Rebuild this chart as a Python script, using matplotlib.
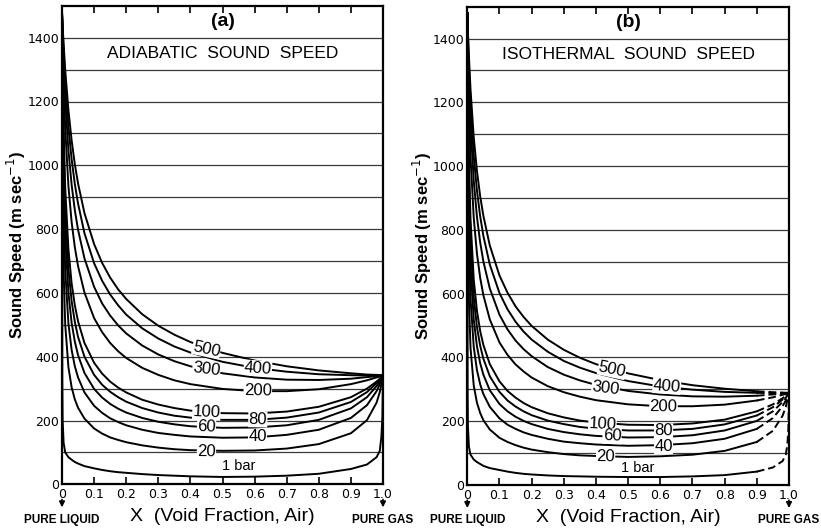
import matplotlib
matplotlib.use("Agg")
import matplotlib.pyplot as plt
import numpy as np

# ---------------- data ----------------
x_main = [0, 0.002, 0.005, 0.01, 0.02, 0.03, 0.04, 0.05, 0.07, 0.1, 0.125, 0.15, 0.175,
          0.2, 0.25, 0.3, 0.35, 0.4, 0.5, 0.6, 0.7, 0.8, 0.9, 0.95, 0.98, 0.99, 1.0]
x_one = [0, 0.001, 0.002, 0.005, 0.01, 0.02, 0.03, 0.04, 0.05, 0.07, 0.1, 0.125, 0.15,
         0.175, 0.2, 0.25, 0.3, 0.35, 0.4, 0.5, 0.6, 0.7, 0.8, 0.9, 0.95, 0.98, 0.99,
         0.995, 0.998, 1.0]

# (a) adiabatic sound speed, m/s
adi_500 = [1480, 1438, 1381, 1299, 1173, 1078, 1003, 943, 850, 753, 694, 648, 611, 581, 533, 497, 469, 446, 412, 388, 370, 357, 348, 344, 343, 342, 342]
adi_400 = [1480, 1427, 1358, 1263, 1121, 1019, 941, 880, 787, 693, 638, 595, 561, 532, 489, 457, 432, 413, 384, 365, 353, 345, 342, 341, 341, 341, 342]
adi_300 = [1480, 1410, 1323, 1208, 1047, 939, 859, 798, 708, 619, 567, 529, 498, 473, 435, 407, 386, 370, 348, 335, 328, 327, 331, 336, 339, 340, 342]
adi_200 = [1480, 1378, 1259, 1116, 935, 822, 743, 684, 601, 521, 477, 443, 417, 396, 365, 343, 326, 314, 299, 292, 292, 298, 314, 326, 335, 338, 342]
adi_100 = [1480, 1294, 1113, 930, 737, 630, 561, 511, 443, 381, 347, 322, 303, 288, 265, 250, 239, 231, 223, 222, 228, 243, 273, 300, 322, 331, 342]
adi_80 = [1480, 1257, 1056, 866, 675, 574, 509, 462, 400, 343, 312, 290, 273, 259, 239, 225, 215, 209, 202, 202, 209, 225, 258, 289, 317, 328, 342]
adi_60 = [1480, 1202, 978, 784, 600, 506, 447, 405, 349, 299, 272, 252, 237, 225, 208, 196, 188, 182, 177, 178, 185, 202, 238, 273, 308, 323, 342]
adi_40 = [1480, 1110, 864, 672, 504, 421, 370, 335, 288, 246, 224, 207, 195, 185, 171, 161, 155, 150, 146, 147, 155, 171, 208, 248, 292, 314, 342]
adi_20 = [1480, 925, 670, 501, 367, 304, 266, 240, 206, 175, 159, 147, 139, 132, 122, 115, 110, 107, 105, 106, 112, 126, 160, 201, 256, 289, 342]
adi_1 = [1480, 330, 200, 130, 100, 85, 77, 70, 65, 57, 50, 45, 41, 38, 36, 32, 29, 27, 25, 23, 24, 27, 33, 48, 62, 85, 105, 150, 209, 342]

# (b) isothermal sound speed, m/s
iso_500 = [1480, 1421, 1345, 1241, 1091, 985, 906, 844, 751, 657, 603, 560, 527, 499, 456, 424, 399, 379, 350, 329, 313, 302, 294, 291, 290, 289, 289]
iso_400 = [1480, 1407, 1316, 1197, 1033, 923, 843, 781, 691, 602, 551, 512, 481, 456, 418, 389, 368, 351, 326, 309, 299, 292, 289, 288, 288, 289, 289]
iso_300 = [1480, 1385, 1271, 1132, 954, 841, 761, 701, 616, 534, 488, 453, 426, 404, 370, 346, 328, 314, 295, 284, 278, 277, 280, 284, 287, 288, 289]
iso_200 = [1480, 1343, 1194, 1029, 838, 726, 650, 595, 519, 447, 408, 378, 356, 337, 310, 291, 277, 266, 253, 247, 247, 252, 265, 275, 283, 286, 289]
iso_100 = [1480, 1236, 1026, 834, 645, 546, 483, 439, 379, 325, 295, 274, 257, 244, 225, 212, 202, 196, 189, 188, 193, 205, 231, 253, 272, 280, 289]
iso_80 = [1480, 1192, 965, 770, 588, 495, 437, 396, 341, 292, 265, 246, 231, 219, 202, 191, 182, 177, 171, 171, 176, 190, 218, 244, 268, 277, 289]
iso_60 = [1480, 1127, 883, 690, 519, 435, 382, 346, 297, 254, 231, 214, 201, 191, 176, 166, 159, 154, 149, 150, 156, 171, 201, 231, 260, 273, 289]
iso_40 = [1480, 1024, 768, 585, 433, 360, 316, 285, 245, 209, 189, 176, 165, 157, 145, 136, 131, 127, 123, 125, 131, 145, 176, 210, 247, 265, 289]
iso_20 = [1480, 830, 583, 430, 312, 258, 226, 203, 174, 148, 135, 125, 117, 111, 103, 97, 93, 91, 88, 90, 95, 107, 135, 170, 217, 245, 289]
iso_1 = [1480, 300, 185, 120, 95, 80, 72, 66, 60, 53, 47, 42, 38, 35, 33, 30, 28, 27, 26, 25, 25, 27, 31, 42, 55, 75, 95, 127, 177, 289]

pressures = [500, 400, 300, 200, 100, 80, 60, 40, 20]
adi_curves = [adi_500, adi_400, adi_300, adi_200, adi_100, adi_80, adi_60, adi_40, adi_20]
iso_curves = [iso_500, iso_400, iso_300, iso_200, iso_100, iso_80, iso_60, iso_40, iso_20]

x_ticks = [0, 0.1, 0.2, 0.3, 0.4, 0.5, 0.6, 0.7, 0.8, 0.9, 1.0]
x_tick_labels = ["0", "0.1", "0.2", "0.3", "0.4", "0.5", "0.6", "0.7", "0.8", "0.9", "1.0"]
y_ticks = [0, 200, 400, 600, 800, 1000, 1200, 1400]
y_grid = [100, 200, 300, 400, 500, 600, 700, 800, 900, 1000, 1100, 1200, 1300, 1400]

# label placements (x, y, rotation) per panel
adi_label_pos = {500: (0.45, 424, -12), 400: (0.61, 364, -4), 300: (0.45, 361, -7),
                 200: (0.61, 294, -1), 100: (0.45, 226, -3), 80: (0.61, 203, -1),
                 60: (0.45, 180, -2), 40: (0.61, 150, 0), 20: (0.45, 102, -1)}
iso_label_pos = {500: (0.45, 362, -12), 400: (0.62, 310, -4), 300: (0.43, 305, -7),
                 200: (0.61, 246, -1), 100: (0.42, 192, -3), 80: (0.61, 169, -1),
                 60: (0.45, 153, -2), 40: (0.61, 122, 0), 20: (0.43, 90, -1)}

plt.rcParams['font.family'] = ["Liberation Sans", 'DejaVu Sans']

fig = plt.figure(figsize=(8.21, 5.32), dpi=100)
fig.patch.set_facecolor("white")

axes_rects = [[62 / 821, 47.7 / 532, 321 / 821, 478.5 / 532],
              [467.3 / 821, 47 / 532, 321.7 / 821, 478.3 / 532]]
panel_tags = ["(a)", "(b)"]
panel_titles = ["ADIABATIC  SOUND  SPEED", "ISOTHERMAL  SOUND  SPEED"]
one_bar_pos = [(0.55, 56), (0.53, 52)]

LW = 1.4
for k in range(2):
    ax = fig.add_axes(axes_rects[k])
    ax.set_xlim(0, 1.0)
    ax.set_ylim(0, 1500)
    for g in y_grid:
        ax.axhline(g, color="#3a3a3a", lw=0.9, zorder=1)

    curves = adi_curves if k == 0 else iso_curves
    lpos = adi_label_pos if k == 0 else iso_label_pos
    xm = np.array(x_main)
    for p, yv in zip(pressures, curves):
        yv = np.array(yv)
        if k == 0:
            ax.plot(xm, yv, color="black", lw=LW, zorder=3)
        else:
            m1 = xm <= 0.9
            m2 = xm >= 0.9
            ax.plot(xm[m1], yv[m1], color="black", lw=LW, zorder=3)
            ax.plot(xm[m2], yv[m2], color="black", lw=LW, zorder=3, dashes=(4, 2))
        lx, ly, rot = lpos[p]
        ax.text(lx, ly, str(p), fontsize=12, ha="center", va="center",
                rotation=rot, zorder=5,
                bbox=dict(facecolor="white", edgecolor="none", pad=0.2))

    xo = np.array(x_one)
    yo = np.array(adi_1 if k == 0 else iso_1)
    if k == 0:
        ax.plot(xo, yo, color="black", lw=LW, zorder=3)
    else:
        m1 = xo <= 0.9
        m2 = xo >= 0.9
        ax.plot(xo[m1], yo[m1], color="black", lw=LW, zorder=3)
        ax.plot(xo[m2], yo[m2], color="black", lw=LW, zorder=3, dashes=(4, 2))
    bx, by = one_bar_pos[k]
    ax.text(bx, by, "1 bar", fontsize=10.5, ha="center", va="center", zorder=5)

    for s in ax.spines.values():
        s.set_linewidth(1.6)
        s.set_color("black")

    ax.set_xticks(x_ticks)
    ax.set_xticklabels(x_tick_labels, fontsize=9, family="DejaVu Sans")
    ax.set_yticks(y_ticks)
    ax.set_yticklabels([str(v) for v in y_ticks], fontsize=9, family="DejaVu Sans")
    ax.tick_params(axis="x", direction="in", length=5, width=1.2, pad=3,
                   top=True, labeltop=False)
    ax.tick_params(axis="y", length=0, pad=2)

    ax.set_ylabel("Sound Speed (m sec$^{-1}$)", fontsize=12, fontweight="bold")
    ax.yaxis.set_label_coords(-0.105, 0.5)
    ax.set_xlabel("X  (Void Fraction, Air)", fontsize=14, labelpad=5)

    ax.text(0.5, 1450, panel_tags[k], fontsize=14, fontweight="bold",
            ha="center", va="center", zorder=5)
    ax.text(0.5, 1350, panel_titles[k], fontsize=12.5, ha="center", va="center",
            zorder=5, bbox=dict(facecolor="white", edgecolor="none", pad=0.5))

    # pure liquid / pure gas annotations
    for xv, lab in [(0.0, "PURE LIQUID"), (1.0, "PURE GAS")]:
        ax.annotate("", xy=(xv, -0.054), xycoords=("data", "axes fraction"),
                    xytext=(xv, -0.026), textcoords=("data", "axes fraction"),
                    arrowprops=dict(arrowstyle="-|>", color="black", lw=1.2,
                                    mutation_scale=8))
        ax.text(xv, -0.074, lab, transform=ax.get_xaxis_transform(),
                fontsize=8.5, fontweight="bold", ha="center", va="center")

fig.savefig("out.png", dpi=100, facecolor="white")
